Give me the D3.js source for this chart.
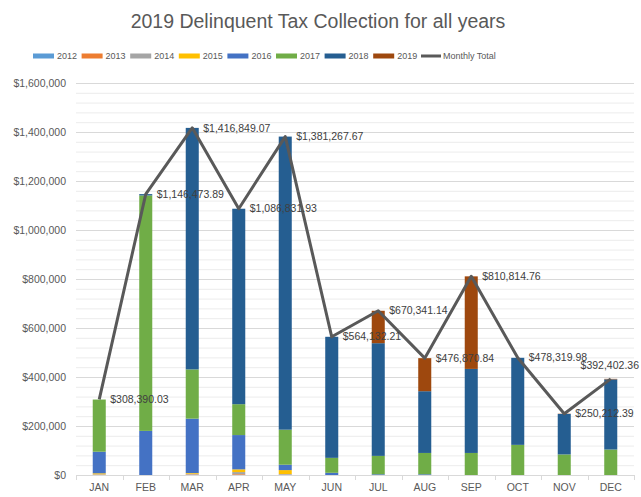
<!DOCTYPE html>
<html>
<head>
<meta charset="utf-8">
<script src="https://cdn.jsdelivr.net/npm/d3@7"></script>
<style>
  html, body { margin: 0; padding: 0; background: #fff; overflow: hidden; }
  svg { display: block; }
  svg text { font-family: "Liberation Sans", Arial, sans-serif; }
</style>
</head>
<body>
<div id="chart"></div>
<script>
// Months and year series
const MONTHS = ["JAN", "FEB", "MAR", "APR", "MAY", "JUN", "JUL", "AUG", "SEP", "OCT", "NOV", "DEC"];
const YEARS = ["2012", "2013", "2014", "2015", "2016", "2017", "2018", "2019"];
const COLORS = ["#5B9BD5", "#ED7D31", "#A5A5A5", "#FFC000", "#4472C4", "#70AD47", "#255E91", "#9E480E"];

const Y2012 = [0, 0, 0, 0, 0, 0, 0, 0, 0, 0, 0, 0];
const Y2013 = [1000, 0, 2000, 3000, 1000, 0, 0, 0, 0, 0, 0, 0];
const Y2014 = [2000, 0, 3000, 9000, 3000, 0, 0, 0, 0, 0, 0, 0];
const Y2015 = [4000, 0, 3000, 11000, 16000, 0, 0, 0, 0, 0, 0, 0];
const Y2016 = [88000, 180000, 222000, 140000, 22000, 9000, 3000, 3000, 0, 0, 0, 0];
const Y2017 = [213000, 961000, 201000, 126000, 143000, 61000, 75000, 87000, 90000, 123000, 84000, 104000];
const Y2018 = [0, 5500, 985800, 797800, 1196300, 494100, 460000, 252000, 343000, 355300, 165200, 286400];
const Y2019 = [0, 0, 0, 0, 0, 0, 132300, 134900, 377800, 0, 1000, 2000];

const TOTALS = [308390.03, 1146473.89, 1416849.07, 1086831.93, 1381267.67, 564132.21,
                670341.14, 476870.84, 810814.76, 478319.98, 250212.39, 392402.36];

const Y_TICKS = [0, 200000, 400000, 600000, 800000, 1000000, 1200000, 1400000, 1600000];

const SERIES = [Y2012, Y2013, Y2014, Y2015, Y2016, Y2017, Y2018, Y2019];

const width = 641;
const height = 497;
const margin = ({top: 83, right: 7, bottom: 22, left: 76});
const innerWidth = width - margin.left - margin.right;
const innerHeight = height - margin.top - margin.bottom;

const svg = d3.select("#chart")
    .append("svg")
    .attr("width", width)
    .attr("height", height);

// Title
svg.append("text")
    .attr("x", 318)
    .attr("y", 28)
    .attr("text-anchor", "middle")
    .attr("font-size", 19.5)
    .attr("fill", "#595959")
    .text("2019 Delinquent Tax Collection for all years");

// Table for stacking
const table = MONTHS.map((m, i) => {
    const row = {month: m};
    YEARS.forEach((y, j) => { row[y] = SERIES[j][i]; });
    return row;
});
const stacked = d3.stack().keys(YEARS)(table);

const xScale = d3.scaleBand()
    .domain(MONTHS)
    .range([0, innerWidth])
    .paddingInner(0.72)
    .paddingOuter(0.36);

const yScale = d3.scaleLinear()
    .domain([0, 1600000])
    .range([innerHeight, 0]);

const root = svg.append("g")
    .attr("transform", `translate(${margin.left}, ${margin.top})`);

// Minor gridlines
root.append("g")
    .selectAll("line")
    .data(d3.range(0, 1600001, 40000))
  .enter().append("line")
    .attr("x1", 0)
    .attr("x2", innerWidth)
    .attr("y1", d => yScale(d) + 0.5)
    .attr("y2", d => yScale(d) + 0.5)
    .attr("stroke", "#ececec");

// Major gridlines
root.append("g")
    .selectAll("line")
    .data(Y_TICKS.slice(1))
  .enter().append("line")
    .attr("x1", 0)
    .attr("x2", innerWidth)
    .attr("y1", d => yScale(d) + 0.5)
    .attr("y2", d => yScale(d) + 0.5)
    .attr("stroke", "#d9d9d9");

// Y axis labels
const yAxis = root.append("g")
    .call(d3.axisLeft(yScale).tickValues(Y_TICKS).tickSize(0).tickPadding(10).tickFormat(d3.format("$,")));
yAxis.select(".domain").remove();
yAxis.selectAll("text")
    .attr("font-size", 10.5)
    .attr("fill", "#595959")
    .style("font-family", null);

// X axis
const xAxis = root.append("g")
    .attr("transform", `translate(0, ${innerHeight})`)
    .call(d3.axisBottom(xScale).tickSize(0).tickPadding(9));
xAxis.select(".domain").attr("stroke", "#d9d9d9");
xAxis.selectAll("text")
    .attr("font-size", 10.5)
    .attr("fill", "#595959")
    .style("font-family", null);

// Category boundary tick marks
const step = xScale.step();
root.append("g")
    .selectAll("line")
    .data(d3.range(MONTHS.length + 1))
  .enter().append("line")
    .attr("x1", d => Math.round(d * step) + 0.5)
    .attr("x2", d => Math.round(d * step) + 0.5)
    .attr("y1", innerHeight)
    .attr("y2", innerHeight + 5)
    .attr("stroke", "#d9d9d9");

// Stacked bars
root.append("g")
    .selectAll("g")
    .data(stacked)
  .enter().append("g")
    .attr("fill", (d, i) => COLORS[i])
    .selectAll("rect")
    .data(d => d)
  .enter().append("rect")
    .attr("x", d => xScale(d.data.month))
    .attr("width", xScale.bandwidth())
    .attr("y", d => yScale(d[1]))
    .attr("height", d => yScale(d[0]) - yScale(d[1]));

// Monthly total line
const lineGenerator = d3.line()
    .x((d, i) => xScale(MONTHS[i]) + xScale.bandwidth() / 2)
    .y(d => yScale(d));

root.append("path")
    .datum(TOTALS)
    .attr("fill", "none")
    .attr("stroke", "#595959")
    .attr("stroke-width", 3)
    .attr("stroke-linejoin", "round")
    .attr("d", lineGenerator);

// Data labels (the last one is pulled inside the frame, as in the original)
const fmtLabel = d3.format("$,.2f");
const last = TOTALS.length - 1;
root.append("g")
    .selectAll("text")
    .data(TOTALS)
  .enter().append("text")
    .attr("x", (d, i) => i === last ? innerWidth + 5 : xScale(MONTHS[i]) + xScale.bandwidth() / 2 + 11)
    .attr("y", (d, i) => i === last ? yScale(d) - 14 : yScale(d))
    .attr("dy", "0.35em")
    .attr("text-anchor", (d, i) => i === last ? "end" : "start")
    .attr("font-size", 10.5)
    .attr("fill", "#404040")
    .text(d => fmtLabel(d));

// Legend
const legend = svg.append("g")
    .attr("transform", "translate(33, 56)");
YEARS.forEach((y, i) => {
    const g = legend.append("g").attr("transform", `translate(${i * 48.6}, 0)`);
    g.append("rect")
        .attr("x", 0).attr("y", -2.5)
        .attr("width", 21).attr("height", 5)
        .attr("fill", COLORS[i]);
    g.append("text")
        .attr("x", 24).attr("y", 0).attr("dy", "0.35em")
        .attr("font-size", 9)
        .attr("fill", "#595959")
        .text(y);
});
const lineItem = legend.append("g").attr("transform", "translate(388, 0)");
lineItem.append("line")
    .attr("x1", 0).attr("x2", 20)
    .attr("y1", 0).attr("y2", 0)
    .attr("stroke", "#595959")
    .attr("stroke-width", 3);
lineItem.append("text")
    .attr("x", 22).attr("y", 0).attr("dy", "0.35em")
    .attr("font-size", 9)
    .attr("fill", "#595959")
    .text("Monthly Total");
</script>
</body>
</html>
